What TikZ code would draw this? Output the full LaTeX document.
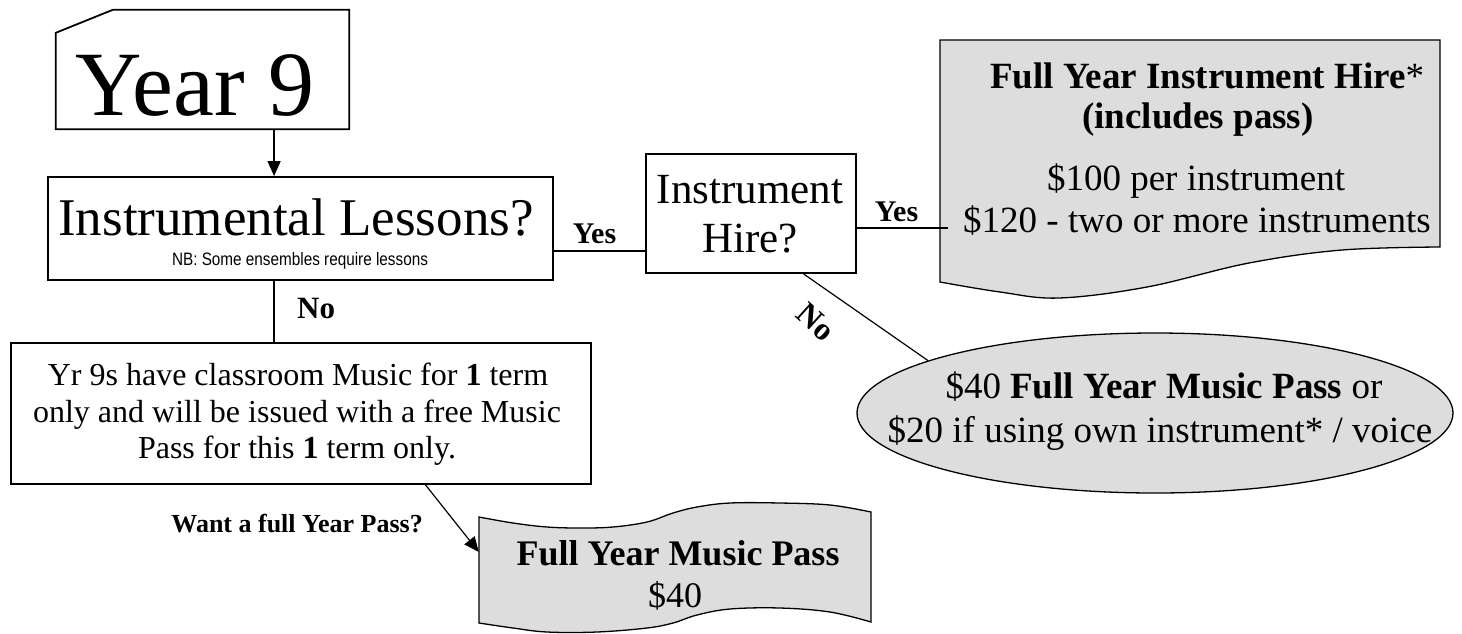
\documentclass[tikz,border=0pt]{standalone}
\usepackage{fontspec}
\setmainfont{Liberation Serif}
\newfontfamily\nbfont[FakeStretch=0.85]{Liberation Sans}
\usetikzlibrary{shapes.geometric,arrows.meta,calc}
\definecolor{gfill}{RGB}{221,221,221}
\newcommand\fsz[1]{\fontsize{#1}{#1}\selectfont}
\begin{document}
\begin{tikzpicture}[x=1pt,y=-1pt,
  boxst/.style={draw, line width=1.8pt, inner sep=0pt, rectangle},
  conn/.style={line width=1.2pt},
  arr/.style={conn, -{Triangle[width=13pt,length=15pt]}},
  txt/.style={anchor=base, inner sep=0pt},
  lbl/.style={anchor=base, inner sep=0pt, font=\fsz{30}\bfseries},
  shade/.style={fill=gfill, draw, line width=1.3pt}
]
\useasboundingbox (0,0) rectangle (1462,633);

% ---------- Year 9
\node[inner sep=0pt, minimum width=293pt, minimum height=119pt] (y9) at (202.5,69.5) {};
\draw[line width=1.8pt] (y9.south west) -- ([yshift=-23pt]y9.north west) -- ([xshift=57pt]y9.north west) -- (y9.north east) -- (y9.south east) -- cycle;
\node[txt, font=\fsz{92}] (y9t) at (195,115) {Year 9};

% ---------- Instrumental Lessons
\node[boxst, minimum width=505pt, minimum height=103pt] (il) at (300.5,228.5) {};
\node[txt, font=\fsz{53}] (ilt) at (296,235) {Instrumental Lessons?};
\node[txt, font=\nbfont\fsz{18}] (nb) at (300,265) {NB: Some ensembles require lessons};

% ---------- Instrument Hire
\node[boxst, minimum width=210pt, minimum height=119pt] (ih) at (751,213.5) {};
\node[txt, font=\fsz{43}] (iht1) at (750,203) {Instrument};
\node[txt, font=\fsz{43}] (iht2) at (750,252) {Hire?};

% ---------- Yr 9s box
\node[boxst, minimum width=580pt, minimum height=141pt] (yr) at (301,413.5) {};
\node[txt, font=\fsz{32}] (yr1) at (298,385) {Yr 9s have classroom Music for \textbf{1} term};
\node[txt, font=\fsz{32}] (yr2) at (297,422) {only and will be issued with a free Music};
\node[txt, font=\fsz{32}] (yr3) at (297,458) {Pass for this \textbf{1} term only.};

% ---------- Instrument hire document shape
\node[inner sep=0pt, minimum width=500pt, minimum height=258pt] (doc) at (1190,169) {};
\draw[shade] (940,282) -- (940,40) -- (1440,40) -- (1440,247)
  -- plot[smooth, tension=0.6] coordinates {(1440,247) (1342,250) (1249,263) (1147,287) (1059,298) (1000,292) (940,282)} -- cycle;
\node[txt, anchor=base west, font=\fsz{37}] (d1) at (990,88) {\textbf{Full Year Instrument Hire}*};
\node[txt, font=\fsz{37}\bfseries] (d2) at (1198,128) {(includes pass)};
\node[txt, font=\fsz{37}] (d3) at (1196,190) {\$100 per instrument};
\node[txt, font=\fsz{37}] (d4) at (1197,232) {\$120 - two or more instruments};

% ---------- Ellipse
\node[ellipse, shade, minimum width=596pt, minimum height=160pt, inner sep=0pt] (ell) at (1155,413) {};
\node[txt, font=\fsz{37}] (e1) at (1164,398) {\$40 \textbf{Full Year Music Pass} or};
\node[txt, font=\fsz{37}] (e2) at (1160,442) {\$20 if using own instrument* / voice};

% ---------- Banner
\node[inner sep=0pt, minimum width=392pt, minimum height=100pt] (fy) at (675,552) {};
\draw[shade] plot[smooth, tension=0.6] coordinates {(479,517) (513,523) (547,527) (580,528) (613,527) (647,522) (673,513) (697,507) (730,503) (780,503) (830,505) (871,512)}
  -- plot[smooth, tension=0.6] coordinates {(871,622) (830,612) (780,608) (730,609) (697,615) (673,623) (647,628) (597,632) (547,632) (513,628) (479,623)} -- cycle;
\node[txt, font=\fsz{36}\bfseries] (fy1) at (678,565) {Full Year Music Pass};
\node[txt, font=\fsz{36}] (fy2) at (675,607) {\$40};

% ---------- Connectors
\coordinate (c1) at ($(y9.south west)!0.744!(y9.south east)$);
\draw[arr] (c1) -- (c1 |- il.north);

\coordinate (c2) at (600,251);
\draw[conn] (c2 -| il.east) -- (c2 -| ih.west);
\node[lbl] (yes1) at (594.5,243) {Yes};

\coordinate (c3) at (948,228);
\draw[conn] (c3 -| ih.east) -- (c3);
\node[lbl] (yes2) at (896.5,221) {Yes};

\coordinate (c4) at ($(ih.south west)!0.748!(ih.south east)$);
\draw[conn] (c4) -- (ell.167);
\node[lbl, anchor=center, rotate=-42, font=\fsz{32}\bfseries] (no2) at (816,322) {No};

\draw[conn] (c1 |- il.south) -- (c1 |- yr.north);
\node[lbl, anchor=base west, font=\fsz{31}\bfseries] (no1) at (297,318) {No};

\coordinate (c5) at ($(yr.south west)!0.714!(yr.south east)$);
\draw[arr] (c5) -- (fy.west);
\node[lbl, anchor=base east, font=\fsz{26}\bfseries] (want) at (423,532) {Want a full Year Pass?};
\end{tikzpicture}
\end{document}
